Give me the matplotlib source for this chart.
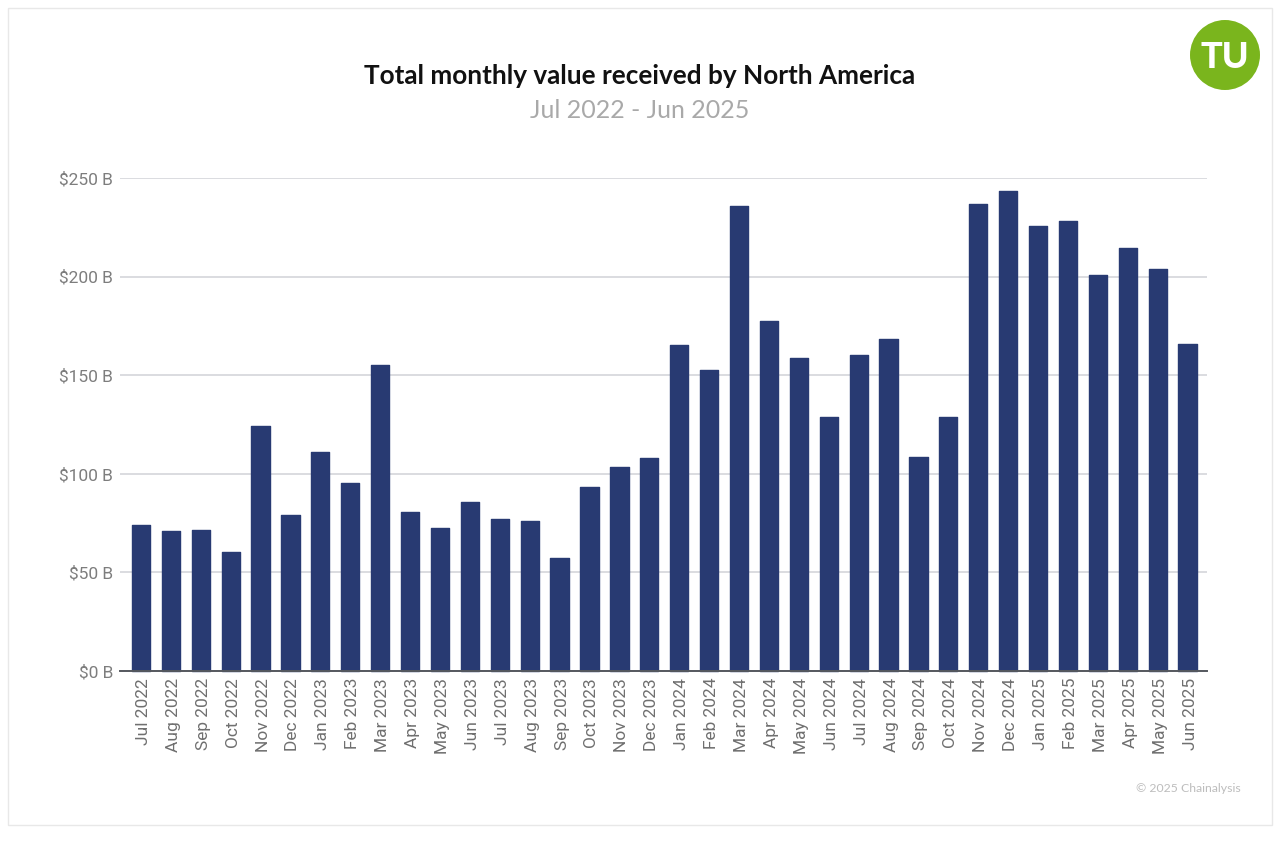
import matplotlib
matplotlib.use("Agg")
import matplotlib.pyplot as plt
from matplotlib.patches import Rectangle, Ellipse
from matplotlib.transforms import ScaledTranslation

months = ["Jul 2022","Aug 2022","Sep 2022","Oct 2022","Nov 2022","Dec 2022",
          "Jan 2023","Feb 2023","Mar 2023","Apr 2023","May 2023","Jun 2023",
          "Jul 2023","Aug 2023","Sep 2023","Oct 2023","Nov 2023","Dec 2023",
          "Jan 2024","Feb 2024","Mar 2024","Apr 2024","May 2024","Jun 2024",
          "Jul 2024","Aug 2024","Sep 2024","Oct 2024","Nov 2024","Dec 2024",
          "Jan 2025","Feb 2025","Mar 2025","Apr 2025","May 2025","Jun 2025"]
values = [74, 71, 71.5, 60.5, 124, 79,
          111, 95.3, 155, 80.5, 72.5, 85.7,
          77, 76, 57.5, 93.3, 103.5, 108,
          165.3, 152.6, 236, 177.5, 158.7, 128.8,
          160, 168.4, 108.5, 128.8, 236.8, 243.4,
          225.7, 228, 201, 214.5, 204, 166]
y_ticks = [0, 50, 100, 150, 200, 250]
y_labels = ["$0 B", "$50 B", "$100 B", "$150 B", "$200 B", "$250 B"]

W, H = 1280, 846
fig = plt.figure(figsize=(W/100, H/100), dpi=100, facecolor="white")

def fx(p): return p / W
def fy(p): return 1 - p / H

fig.add_artist(Rectangle((fx(8), fy(825)), (1272-8)/W, (825-8)/H, transform=fig.transFigure,
                         facecolor="white", edgecolor="#e8e8e8", linewidth=1.0, zorder=-5))

ax = fig.add_axes([fx(120), fy(671), (1207-120)/W, (671-178)/H])
ax.set_facecolor("none")
ax.set_xlim(-0.70, 35.65)
ax.set_ylim(0, 250)
ax.set_axisbelow(True)
ax.yaxis.grid(True, color="#d4d6da", linewidth=1.2)
ax.xaxis.grid(False)
for s in ["top", "right", "left"]:
    ax.spines[s].set_visible(False)
ax.spines["bottom"].set_color("#55585e")
ax.spines["bottom"].set_linewidth(1.4)

ax.bar(range(len(months)), values, width=0.61, color="#283a72", edgecolor="#283a72",
       linewidth=1.0, joinstyle="round", clip_on=False)

ax.set_yticks(y_ticks)
ax.set_yticklabels(y_labels, family="Roboto", fontsize=12.5, color="#7d7d7d")
ax.set_xticks(range(len(months)))
ax.set_xticklabels(months, family="Roboto", fontsize=12.5, color="#6f6f6f", rotation=90)
ax.tick_params(axis="y", length=0, pad=5)
ax.tick_params(axis="x", length=0, pad=5)
shift = ScaledTranslation(2.5/100, 0, fig.dpi_scale_trans)
for lab in ax.get_xticklabels():
    lab.set_transform(lab.get_transform() + shift)

fig.text(fx(640), fy(76), "Total monthly value received by North America", ha="center", va="center",
         family="Lato", fontweight="bold", fontsize=18.8, color="#111111")
fig.text(fx(640), fy(110), "Jul 2022 - Jun 2025", ha="center", va="center",
         family="Lato", fontsize=18, color="#a9a9a9")
fig.text(fx(1241), fy(788), "© 2025 Chainalysis", ha="right", va="center",
         family="Lato", fontsize=8.8, color="#bdbdbd")

fig.add_artist(Ellipse((fx(1225), fy(55)), 70/W, 70/H, transform=fig.transFigure,
                       facecolor="#7ab51d", edgecolor="none"))
fig.text(fx(1225), fy(57), "TU", ha="center", va="center", family="Lato", fontweight="black",
         fontsize=26, color="white")

fig.savefig("out.png", dpi=100)
